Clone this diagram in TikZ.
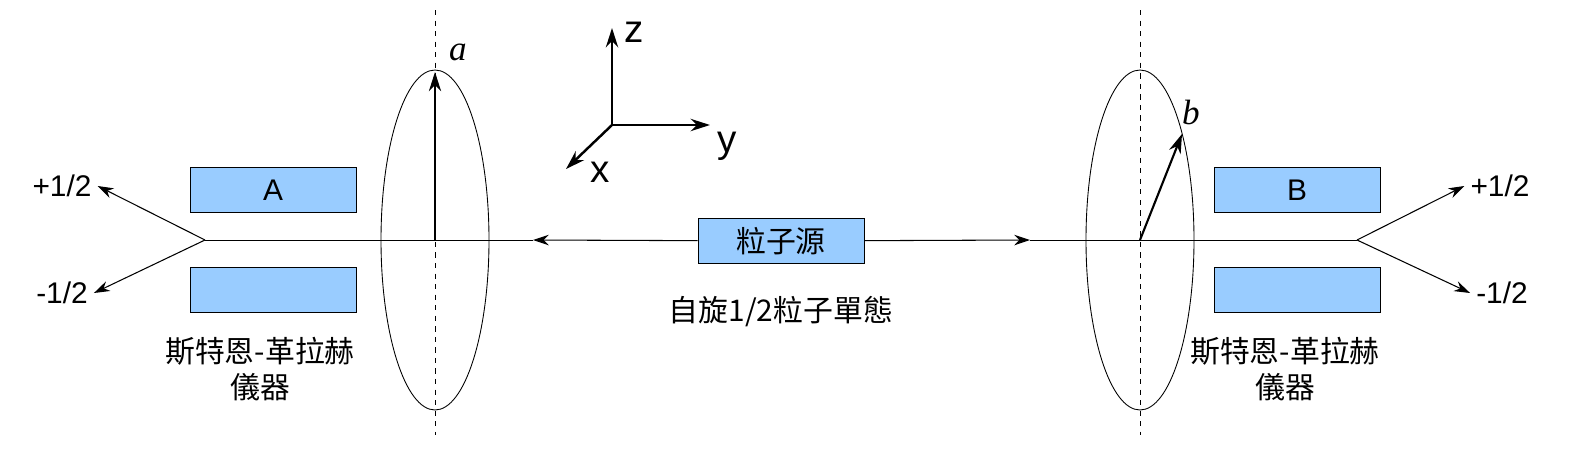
\documentclass[tikz,border=0pt]{standalone}
\usepackage{fontspec}
\setmainfont{Liberation Sans}
\newfontfamily\cjk{Noto Sans CJK TC}
\newfontfamily\serif{Liberation Serif}
\usetikzlibrary{arrows.meta}
\definecolor{boxblue}{HTML}{99CCFF}
\begin{document}
\begin{tikzpicture}[x=0.02cm,y=-0.02cm,font=\fontsize{17}{21}\selectfont,
    magnet/.style={draw=black,fill=boxblue,minimum width=3.32cm,minimum height=0.9cm,inner sep=0pt},
    beam/.style={line width=0.5pt},
    ray/.style={line width=0.6pt,-{Stealth[length=9pt,width=6pt]}},
    spin/.style={line width=1.2pt,-{Stealth[length=11pt,width=7pt]}}]
    \useasboundingbox (0,0) rectangle (1593,460);

    % Magnets A and B
    \node[magnet] (Atop) at (273,190) {A};
    \node[magnet] (Abot) at (273,290) {};
    \node[magnet] (Btop) at (1297,190) {B};
    \node[magnet] (Bbot) at (1297,290) {};

    % Source
    \node[magnet] (src) at (781,241) {\cjk 粒子源};
    \node (state) at (781,312) {\cjk 自旋1/2粒子單態};

    % Beam
    \coordinate (splitA) at (205,240);
    \coordinate (splitB) at (1357,240);
    \coordinate (tipA) at (533,240);
    \coordinate (tipB) at (1030,240);
    \draw[beam] (splitA) -- (tipA);
    \draw[beam] (tipB) -- (splitB);
    \draw[ray] (src) -- (tipA);
    \draw[ray] (src) -- (tipB);

    % Split outputs
    \node (Aup) at (62,186) {+1/2};
    \node (Adn) at (62,293) {-1/2};
    \node (Bup) at (1500,186) {+1/2};
    \node (Bdn) at (1502,293) {-1/2};
    \draw[ray] (splitA) -- (Aup.east);
    \draw[ray] (splitA) -- (Adn.east);
    \draw[ray] (splitB) -- (Bup.west);
    \draw[ray] (splitB) -- (Bdn.west);

    % Detector orientations
    \coordinate (ca) at (435,240);
    \coordinate (cb) at (1140,240);
    \draw[beam] (ca) ellipse [x radius=54, y radius=170];
    \draw[beam] (cb) ellipse [x radius=54, y radius=170];
    \draw[dashed] (435,10) -- (435,435);
    \draw[dashed] (1140,10) -- (1140,435);
    \coordinate (ta) at (435,72);
    \coordinate (tb) at (1182,134);
    \draw[spin] (ca) -- (ta);
    \draw[spin] (cb) -- (tb);
    \node (a) at (458,52) {\fontsize{20}{22}\selectfont\serif\itshape a};
    \node (b) at (1191,112) {\fontsize{20}{22}\selectfont\serif\itshape b};

    % Labels under magnets
    \node[align=center] (lblA) at (260,369) {\cjk 斯特恩-革拉赫\\\cjk 儀器};
    \node[align=center] (lblB) at (1285,369) {\cjk 斯特恩-革拉赫\\\cjk 儀器};

    % Axes
    \coordinate (O) at (612,125);
    \coordinate (zt) at (612,28);
    \coordinate (yt) at (710,125);
    \coordinate (xt) at (566,169);
    \draw[spin,line width=1.4pt] (O) -- (zt);
    \draw[spin,line width=1.4pt] (O) -- (yt);
    \draw[spin,line width=1.4pt] (O) -- (xt);
    \node[font=\fontsize{22}{24}\selectfont] (zl) at (634,32) {z};
    \node[font=\fontsize{22}{24}\selectfont] (yl) at (727,146) {y};
    \node[font=\fontsize{22}{24}\selectfont] (xl) at (600,172) {x};
\end{tikzpicture}
\end{document}
